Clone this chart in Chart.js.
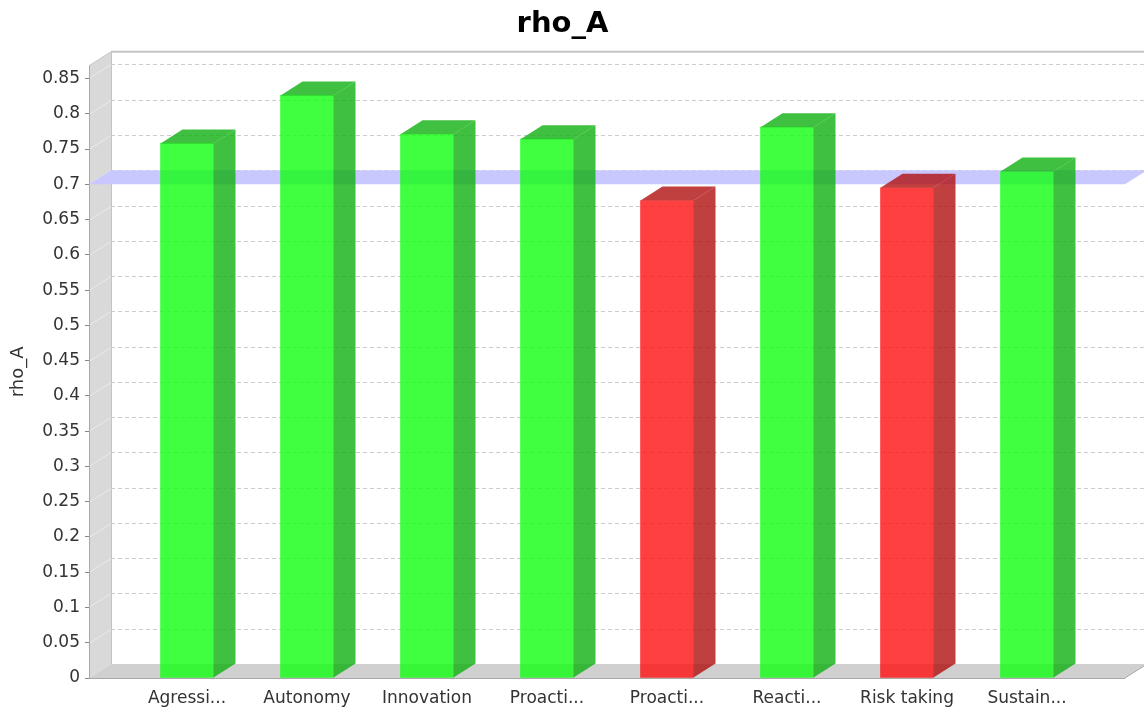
<!DOCTYPE html>
<html>
<head>
<meta charset="utf-8">
<script src="https://cdn.jsdelivr.net/npm/chart.js@4.4.0/dist/chart.umd.min.js"></script>
<style>
  html, body { margin: 0; padding: 0; background: #fff; }
  #wrap { width: 1144px; height: 711px; }
</style>
</head>
<body>
<div id="wrap"><canvas id="chart"></canvas></div>
<script>
// data
const categories = ['Agressi...', 'Autonomy', 'Innovation', 'Proacti...', 'Proacti...', 'Reacti...', 'Risk taking', 'Sustain...'];
const rhoValues = [0.758, 0.826, 0.771, 0.764, 0.677, 0.781, 0.695, 0.718];
const threshold = 0.7;
const yTicks = [0, 0.05, 0.1, 0.15, 0.2, 0.25, 0.3, 0.35, 0.4, 0.45, 0.5, 0.55, 0.6, 0.65, 0.7, 0.75, 0.8, 0.85];

// 3d offsets of the back plane
const DX = 22, DY = 14;
const FONT = 'DejaVu Sans';

const frontColor = v => v >= threshold ? 'rgba(16,255,16,0.8)' : 'rgba(255,16,16,0.8)';
const sideColor = v => v >= threshold ? 'rgba(16,176,16,0.8)' : 'rgba(176,16,16,0.8)';

function quad(ctx, pts, fill){
  ctx.beginPath();
  ctx.moveTo(pts[0][0], pts[0][1]);
  for(let i=1;i<pts.length;i++) ctx.lineTo(pts[i][0], pts[i][1]);
  ctx.closePath();
  ctx.fillStyle = fill;
  ctx.fill();
}
function line(ctx, x1, y1, x2, y2){
  ctx.beginPath(); ctx.moveTo(x1, y1); ctx.lineTo(x2, y2); ctx.stroke();
}

const depthPlugin = {
  id: 'depth',
  beforeDatasetsDraw(chart){
    const {ctx, chartArea: a, scales: {y}} = chart;
    const L = a.left, R = a.right, T = a.top, B = a.bottom;
    ctx.save();
    // left wall + floor
    quad(ctx, [[L, T], [L+DX, T-DY], [L+DX, B-DY], [L, B]], '#d9d9d9');
    quad(ctx, [[L, B], [L+DX, B-DY], [R+DX, B-DY], [R, B]], '#d0d0d0');

    // dashed grid on the back wall, slanted lines on the side wall
    ctx.lineWidth = 1;
    yTicks.forEach(v => {
      if(v === 0) return;
      const py = Math.round(y.getPixelForValue(v)) + 0.5;
      ctx.setLineDash([4, 3]);
      ctx.strokeStyle = '#cccccc';
      line(ctx, L+DX, py-DY, R+DX, py-DY);
      ctx.setLineDash([]);
      ctx.strokeStyle = 'rgba(255,255,255,0.45)';
      line(ctx, L, py, L+DX, py-DY);
    });

    // frame edges
    ctx.setLineDash([]);
    ctx.strokeStyle = '#c4c4c4';
    ctx.lineWidth = 2;
    line(ctx, L+DX, T-DY, R+DX+2, T-DY);
    ctx.lineWidth = 1;
    line(ctx, L+DX+0.5, T-DY, L+DX+0.5, B-DY);
    line(ctx, L, T, L+DX, T-DY);
    ctx.strokeStyle = '#a8a8a8';
    line(ctx, L+0.5, T, L+0.5, B);
    line(ctx, L, B+0.5, R, B+0.5);
    line(ctx, R, B, R+DX, B-DY);

    // threshold marker band
    const ty = y.getPixelForValue(threshold);
    quad(ctx, [[L, ty], [L+DX, ty-DY], [R+DX, ty-DY], [R, ty]], '#c8c8ff');
    ctx.restore();
  },
  afterDatasetsDraw(chart){
    const {ctx} = chart;
    const meta = chart.getDatasetMeta(0);
    ctx.save();
    meta.data.forEach((bar, i) => {
      const v = rhoValues[i];
      const {x, y, base, width} = bar.getProps(['x', 'y', 'base', 'width'], true);
      const l = x - width/2, r = x + width/2;
      quad(ctx, [[r, y], [r+DX, y-DY], [r+DX, base-DY], [r, base]], sideColor(v));
      quad(ctx, [[l, y], [l+DX, y-DY], [r+DX, y-DY], [r, y]], sideColor(v));
    });
    ctx.restore();
  }
};

new Chart(document.getElementById('chart'), {
  type: 'bar',
  data: {
    datasets: [{
      label: 'rho_A',
      data: rhoValues.map((v, i) => ({x: i, y: v})),
      backgroundColor: rhoValues.map(frontColor),
      borderWidth: 0,
      barThickness: 53
    }]
  },
  options: {
    responsive: true,
    maintainAspectRatio: false,
    animation: false,
    layout: { padding: { right: 19 } },
    plugins: {
      legend: { display: false },
      tooltip: { enabled: false },
      title: {
        display: true, text: 'rho_A', color: '#000',
        font: { family: FONT, size: 29, weight: 'bold' },
        padding: { top: 7, bottom: 24 }
      }
    },
    scales: {
      x: {
        type: 'linear',
        offset: false,
        min: -0.8167, max: 7.8167,
        afterBuildTicks: s => { s.ticks = categories.map((_, i) => ({value: i})); },
        afterFit: s => { s.height = 33; },
        grid: { display: false, drawTicks: false, offset: false },
        border: { display: false },
        ticks: {
          autoSkip: false, maxRotation: 0, padding: 10, color: '#333',
          font: { family: FONT, size: 17 },
          callback: v => categories[v]
        }
      },
      y: {
        min: 0, max: 0.868,
        afterBuildTicks: s => { s.ticks = yTicks.map(v => ({value: v})); },
        afterFit: s => { s.width = 89; },
        grid: { drawOnChartArea: false, drawTicks: true, tickLength: 4, color: '#888' },
        border: { display: false },
        ticks: {
          padding: 5, color: '#333',
          font: { family: FONT, size: 17 },
          callback: v => String(v)
        },
        title: {
          display: true, text: 'rho_A', color: '#333',
          font: { family: FONT, size: 18 },
          padding: { top: 8, bottom: 0 }
        }
      }
    }
  },
  plugins: [depthPlugin]
});
</script>
</body>
</html>
